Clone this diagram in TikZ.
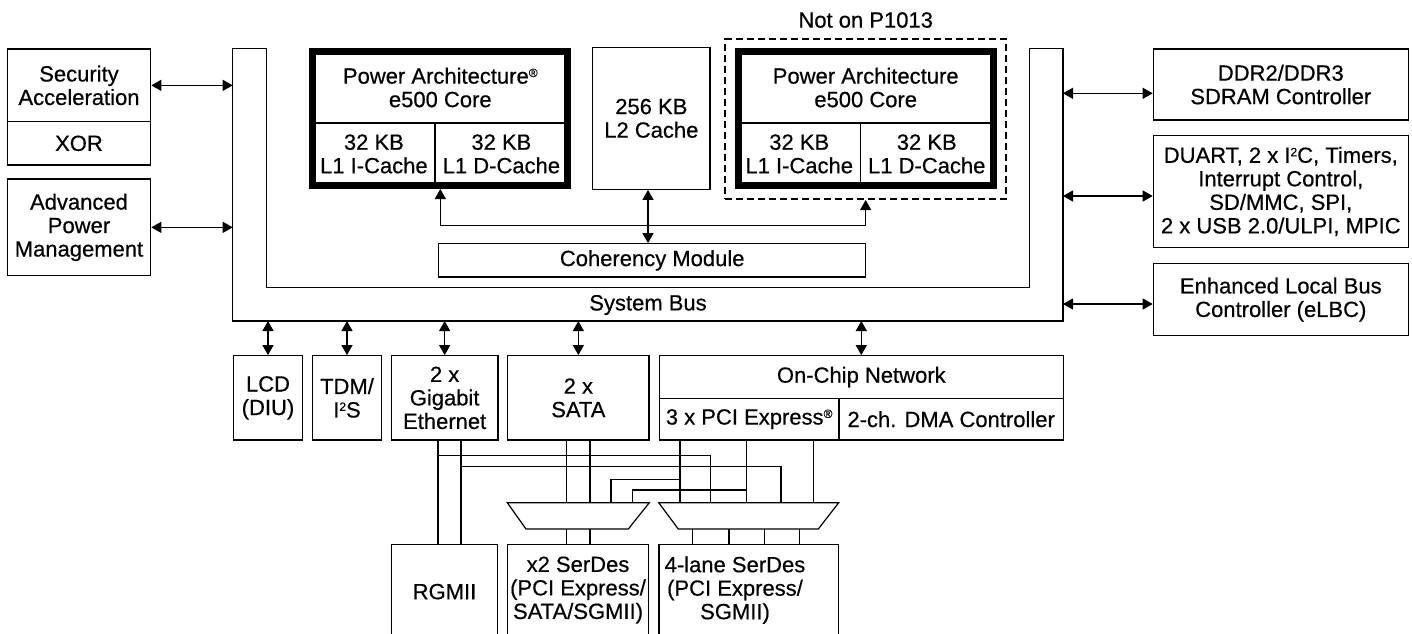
\documentclass[tikz,border=0pt]{standalone}
\usepackage{fontspec}
\setmainfont{Liberation Sans}[UprightFeatures={FakeBold=0.5}]
\usetikzlibrary{arrows.meta}

\newcommand\supmark[1]{\raisebox{0.3em}{\fontsize{12}{12}\selectfont #1}}

\tikzset{
  box/.style={draw, line width=1.2pt, inner sep=0pt, align=center},
  core/.style={draw, line width=7pt, inner sep=0pt},
  wire/.style={line width=1.2pt},
  dbl/.style={line width=1.2pt, {Triangle[length=10pt,width=11pt]}-{Triangle[length=10pt,width=11pt]}},
}

\begin{document}
\begin{tikzpicture}[x=1pt, y=-1pt, font=\fontsize{22}{23.5}\selectfont]
    \useasboundingbox (0,0) rectangle (1412,633);
    \clip (0,0) rectangle (1412,633);

    % 左の箱
    \node[box, minimum width=143.4pt, minimum height=72.7pt] (secA) at (79, 85.35) {Security\\Acceleration};
    \node[box, minimum width=143.4pt, minimum height=43.3pt] (secX) at (79, 143.35) {XOR};
    \node[box, minimum width=143.4pt, minimum height=96.7pt] (apm) at (79, 227.35) {Advanced\\Power\\Management};

    % システムバス
    \coordinate (bo1) at (232.7, 48.7);
    \coordinate (bo2) at (232.7, 321);
    \coordinate (bo3) at (1063, 321);
    \coordinate (bo4) at (1063, 48.7);
    \coordinate (bi4) at (1029.3, 48.7);
    \coordinate (bi3) at (1029.3, 287.3);
    \coordinate (bi2) at (266.7, 287.3);
    \coordinate (bi1) at (266.7, 48.7);
    \draw[wire] (bo1) -- (bo2) -- (bo3) -- (bo4) -- (bi4) -- (bi3) -- (bi2) -- (bi1) -- cycle;
    \node (buslbl) at (648, 305) {System Bus};

    % コア 1
    \node[box, minimum width=255pt, minimum height=71.1pt] (c1top) at (440.3, 87.5) {Power Architecture\supmark{®}\\e500 Core};
    \node[box, minimum width=122.2pt, minimum height=63.2pt] (c1i) at (373.9, 153.9) {32 KB\\L1 I-Cache};
    \node[box, minimum width=132.8pt, minimum height=63.2pt] (c1d) at (501.4, 153.9) {32 KB\\L1 D-Cache};
    \node[core, minimum width=255pt, minimum height=134.3pt] (core1) at (440.3, 118.35) {};

    % L2 キャッシュ
    \node[box, minimum width=117.3pt, minimum height=142pt] (l2) at (651.35, 118.3) {256 KB\\L2 Cache};

    % コア 2
    \node[box, minimum width=255pt, minimum height=71.1pt] (c2top) at (865.7, 87.5) {Power Architecture\\e500 Core};
    \node[box, minimum width=122.1pt, minimum height=63.2pt] (c2i) at (799.25, 153.9) {32 KB\\L1 I-Cache};
    \node[box, minimum width=132.9pt, minimum height=63.2pt] (c2d) at (926.75, 153.9) {32 KB\\L1 D-Cache};
    \node[core, minimum width=255pt, minimum height=134.3pt] (core2) at (865.7, 118.35) {};
    \node[draw, line width=2pt, dash pattern=on 7pt off 4pt, minimum width=280.7pt, minimum height=160pt] (nop) at (865.65, 119) {};
    \node (noplbl) at (865.7, 20) {Not on P1013};

    % コヒーレンシ
    \node[box, minimum width=427pt, minimum height=33.3pt] (coh) at (652.2, 260.35) {Coherency Module};

    % 右の箱
    \node[box, minimum width=255pt, minimum height=71pt] (ddr) at (1280.8, 84.5) {DDR2/DDR3\\SDRAM Controller};
    \node[box, minimum width=255pt, minimum height=111.6pt] (duart) at (1280.8, 191.5) {DUART, 2 x I\supmark{2}C, Timers,\\Interrupt Control,\\SD/MMC, SPI,\\2 x USB 2.0/ULPI, MPIC};
    \node[box, minimum width=255pt, minimum height=72.4pt] (elbc) at (1280.8, 299.5) {Enhanced Local Bus\\Controller (eLBC)};

    % 下の箱
    \node[box, minimum width=69.4pt, minimum height=84.3pt] (lcd) at (268, 397.85) {LCD\\(DIU)};
    \node[box, minimum width=69.4pt, minimum height=84.3pt] (tdm) at (347, 397.85) {TDM/\\I\supmark{2}S};
    \node[box, minimum width=106.7pt, minimum height=84.3pt] (eth) at (444.65, 397.85) {2 x\\Gigabit\\Ethernet};
    \node[box, minimum width=141.3pt, minimum height=84.3pt] (sata) at (578.35, 397.85) {2 x\\SATA};
    \node[box, minimum width=404pt, minimum height=42.6pt] (ocn) at (861.3, 377) {On-Chip Network};
    \node[box, minimum width=179.7pt, minimum height=41.7pt] (pcie) at (749.15, 419.15) {3 x PCI Express\supmark{®}};
    \node[box, minimum width=224.3pt, minimum height=41.7pt] (dma) at (951.15, 419.15) {2-ch. DMA Controller};

    % SerDes
    \node[box, minimum width=105.6pt, minimum height=94.7pt] (rgmii) at (444.5, 591.65) {RGMII};
    \node[box, minimum width=140.6pt, minimum height=91.4pt] (serdes2) at (578, 590) {x2 SerDes\\(PCI Express/\\SATA/SGMII)};
    \node[box, minimum width=179.7pt, minimum height=91.4pt] (serdes4) at (748.85, 590) {};
    \node[align=center] (serdes4txt) at (735, 590) {4-lane SerDes\\(PCI Express/\\SGMII)};

    % マルチプレクサ
    \draw[wire] (507.3, 502.7) -- (649.3, 502.7) -- (628.3, 529) -- (526, 529) -- cycle;
    \draw[wire] (658.7, 502.7) -- (838.7, 502.7) -- (818.3, 529) -- (678.3, 529) -- cycle;
    \coordinate (mux1t) at (578.3, 502.7);
    \coordinate (mux1b) at (578.3, 529);
    \coordinate (mux2t) at (748.7, 502.7);
    \coordinate (mux2b) at (748.7, 529);

    % 矢印を引く
    \draw[dbl] (secA.east) -- (secA.east -| bo1);
    \draw[dbl] (apm.east) -- (apm.east -| bo1);
    \coordinate (r1) at (1063, 93.3);
    \coordinate (r2) at (1063, 196);
    \coordinate (r3) at (1063, 304);
    \draw[dbl] (r1) -- (r1 -| ddr.west);
    \draw[dbl] (r2) -- (r2 -| duart.west);
    \draw[dbl] (r3) -- (r3 -| elbc.west);

    \coordinate (cj) at (648, 225.3);
    \draw[dbl] (core1.south) |- (cj) -| (nop.south);
    \draw[dbl] (cj |- l2.south) -- (cj |- coh.north);

    \draw[dbl] (lcd.north |- bo2) -- (lcd.north);
    \draw[dbl] (tdm.north |- bo2) -- (tdm.north);
    \draw[dbl] (eth.north |- bo2) -- (eth.north);
    \draw[dbl] (sata.north |- bo2) -- (sata.north);
    \draw[dbl] (ocn.north |- bo2) -- (ocn.north);

    % 配線
    \coordinate (e1) at (438, 440);
    \coordinate (e2) at (461, 440);
    \coordinate (s1) at (566.7, 440);
    \coordinate (s2) at (590, 440);
    \coordinate (p1) at (680, 440);
    \coordinate (p2) at (746.7, 440);
    \coordinate (p3) at (813.3, 440);
    \coordinate (h1) at (0, 455.7);
    \coordinate (h2) at (0, 466.7);
    \coordinate (h3) at (0, 479.3);
    \coordinate (h4) at (0, 490);
    \coordinate (q1) at (710.7, 502.7);
    \coordinate (q2) at (781, 502.7);
    \coordinate (k1) at (611, 502.7);
    \coordinate (k2) at (632.3, 502.7);

    \draw[wire] (e1) -- (e1 |- rgmii.north);
    \draw[wire] (e2) -- (e2 |- rgmii.north);
    \draw[wire] (e1 |- h1) -| (q1);
    \draw[wire] (e2 |- h2) -| (q2);
    \draw[wire] (s1) -- (s1 |- mux1t);
    \draw[wire] (s2) -- (s2 |- mux1t);
    \draw[wire] (p1) -- (p1 |- mux2t);
    \draw[wire] (p2) -- (p2 |- mux2t);
    \draw[wire] (p3) -- (p3 |- mux2t);
    \draw[wire] (p1 |- h3) -| (k1);
    \draw[wire] (p2 |- h4) -| (k2);

    \draw[wire] (s1 |- mux1b) -- (s1 |- serdes2.north);
    \draw[wire] (s2 |- mux1b) -- (s2 |- serdes2.north);
    \foreach \x in {692.7, 729, 764.3, 799.3}
      \draw[wire] (\x, 529 |- mux2b) -- (\x, 529 |- serdes4.north);
  \end{tikzpicture}
\end{document}
